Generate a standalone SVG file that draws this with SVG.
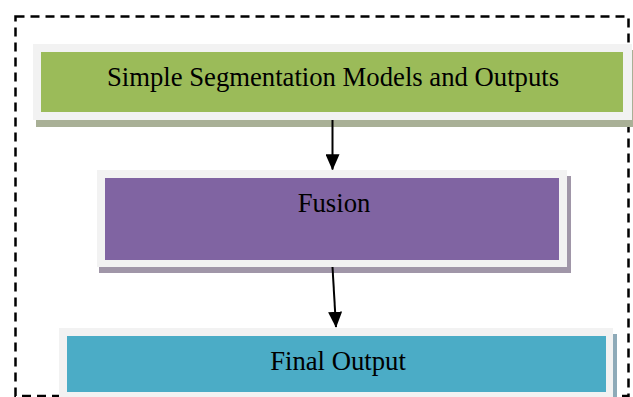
<svg xmlns="http://www.w3.org/2000/svg" width="633" height="397" viewBox="0 0 633 397">
<style>
.frame{fill:#f2f2f2}
.lbl{font-family:"Liberation Serif","Times New Roman",serif;font-size:26.7px;fill:#000;text-anchor:middle}
.conn{stroke:#000;stroke-width:2;fill:none;marker-end:url(#ah)}
</style>
<defs>
<marker id="ah" viewBox="0 0 10 10" refX="9.5" refY="5" markerWidth="16" markerHeight="14" orient="auto" markerUnits="userSpaceOnUse" preserveAspectRatio="none">
<path d="M0,0 L10,5 L0,10 z" fill="#000"/>
</marker>
</defs>
<rect width="633" height="397" fill="#fff"/>
<rect id="boundary" x="15.5" y="16.5" width="613" height="379.5" fill="none" stroke="#000" stroke-width="2.5" stroke-dasharray="9,6"/>
<g id="node-models">
<rect x="36" y="50" width="600" height="77" fill="#a9b096"/>
<rect class="frame" x="33" y="44" width="599" height="76"/>
<rect x="41" y="52" width="582" height="60" fill="#9bbb59"/>
<text class="lbl" x="333" y="86">Simple Segmentation Models and Outputs</text>
</g>
<g id="node-fusion">
<rect x="99" y="176" width="472" height="97" fill="#a096a8"/>
<rect class="frame" x="97" y="170" width="470" height="97"/>
<rect x="105" y="178" width="454" height="82" fill="#8064a2"/>
<text class="lbl" x="334" y="212">Fusion</text>
</g>
<g id="node-final">
<rect x="61" y="334" width="556" height="70" fill="#8eaab8"/>
<rect class="frame" x="59" y="328" width="554" height="72"/>
<rect x="67" y="336" width="539" height="56" fill="#4bacc6"/>
<text class="lbl" x="338" y="370">Final Output</text>
</g>
<g id="connectors">
<line class="conn" x1="332.5" y1="120" x2="332.5" y2="169.5"/>
<line class="conn" x1="332.5" y1="267" x2="336" y2="327"/>
</g>
</svg>
